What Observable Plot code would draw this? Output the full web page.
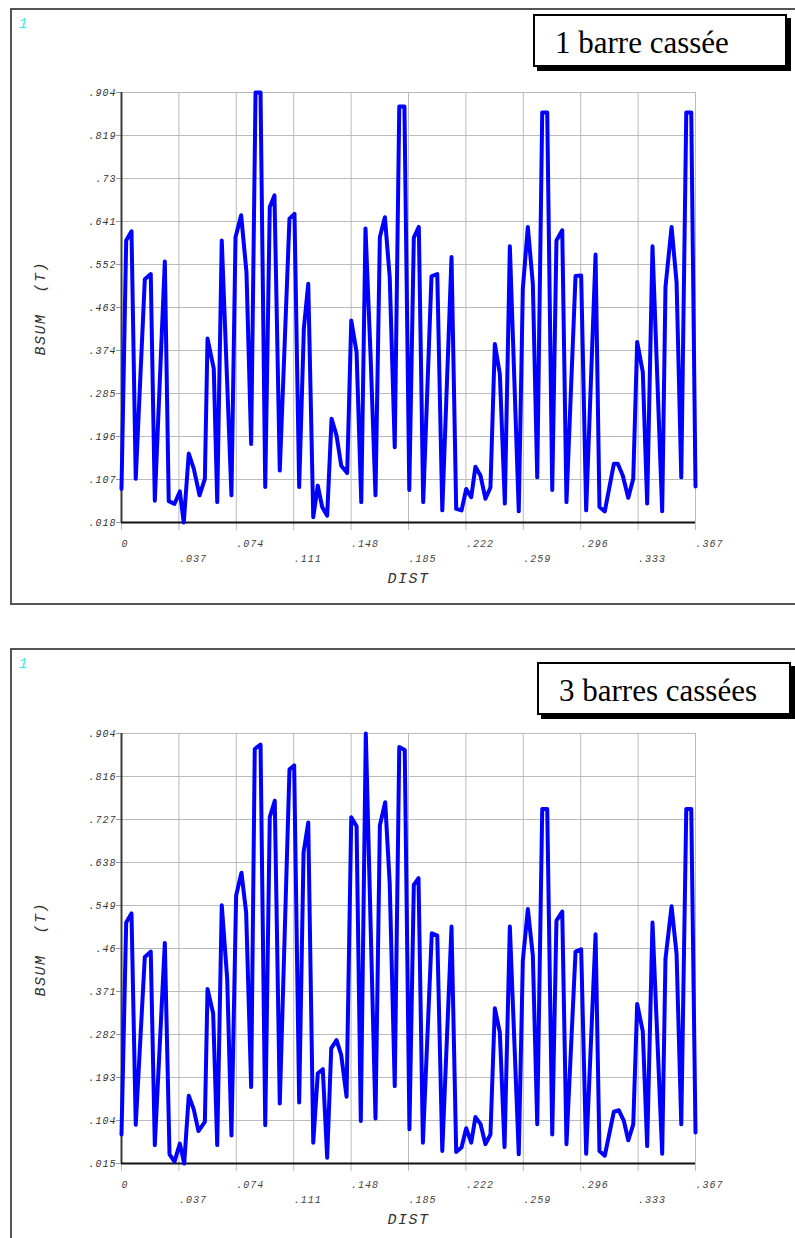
<!DOCTYPE html>
<html><head><meta charset="utf-8">
<script src="https://cdn.jsdelivr.net/npm/d3@7"></script>
<script src="https://cdn.jsdelivr.net/npm/@observablehq/plot@0.6"></script>
<style>
html,body{margin:0;padding:0;background:#fff;}
body{width:795px;height:1238px;position:relative;overflow:hidden;}
.svgwrap{position:absolute;left:0;width:795px;}
.frame{position:absolute;left:10px;width:800px;border:2px solid #555;box-sizing:border-box;}
.num{position:absolute;font-family:"Liberation Mono",monospace;font-style:italic;font-size:14px;line-height:14px;color:#33e8e8;}
.tbox{position:absolute;width:254px;height:53px;box-sizing:border-box;border:2px solid #000;box-shadow:4px 4px 0 #000;background:#fff;font-family:"Liberation Serif","Times New Roman",Times,"DejaVu Serif",serif;font-size:31px;line-height:53px;padding-left:20px;white-space:nowrap;color:#000;}
svg text{font-style:italic;letter-spacing:1px;}
</style>
</head><body>
<script>
// ---- data ----
const xTickLabels = ["0",".037",".074",".111",".148",".185",".222",".259",".296",".333",".367"];
const yTickLabelsTop = [".018",".107",".196",".285",".374",".463",".552",".641",".73",".819",".904"];
const yTickLabelsBot = [".015",".104",".193",".282",".371",".46",".549",".638",".727",".816",".904"];
const titleTop = "1 barre cassée";
const titleBot = "3 barres cassées";
const xTitle = "DIST";
const yTitle = "BSUM  (T)";

const xTop = [0,.0030,.0064,.0091,.0149,.0187,.0213,.0277,.0302,.0339,
  .0373,.0398,.0430,.0462,.0499,.0533,.0550,.0590,.0612,.0641,
  .0676,.0703,.0729,.0765,.0799,.0829,.0857,.0889,.0919,.0948,
  .0978,.1012,.1074,.1106,.1136,.1166,.1194,.1226,.1255,.1283,
  .1315,.1343,.1375,.1405,.1443,.1469,.1503,.1533,.1560,.1592,
  .1624,.1652,.1684,.1715,.1747,.1776,.1809,.1840,.1869,.1901,
  .1929,.1982,.2019,.2051,.2110,.2140,.2174,.2204,.2236,.2263,
  .2295,.2327,.2359,.2387,.2419,.2451,.2483,.2540,.2566,.2598,
  .2630,.2658,.2690,.2722,.2754,.2781,.2818,.2845,.2903,.2939,
  .2971,.3031,.3056,.3090,.3148,.3173,.3205,.3240,.3272,.3297,
  .3333,.3361,.3395,.3457,.3478,.3517,.3549,.3579,.3611,.3643,
  .367];
const yTop = [.087,.599,.618,.108,.519,.530,.063,.556,.062,.0565,
  .082,.018,.160,.129,.074,.108,.397,.335,.060,.599,
  .303,.074,.606,.651,.534,.180,.904,.904,.091,.668,
  .692,.125,.644,.654,.091,.418,.510,.029,.094,.050,
  .032,.232,.197,.135,.120,.434,.369,.060,.624,.366,
  .074,.606,.647,.523,.173,.875,.875,.085,.605,.627,
  .060,.525,.530,.043,.565,.046,.043,.087,.070,.133,
  .115,.067,.090,.386,.324,.057,.587,.041,.500,.627,
  .510,.111,.863,.863,.085,.599,.620,.060,.526,.527,
  .043,.570,.050,.041,.139,.139,.115,.069,.108,.390,
  .328,.057,.587,.041,.503,.627,.513,.111,.863,.863,
  .092];

const xBot = [0,.0030,.0064,.0091,.0149,.0187,.0213,.0277,.0307,.0339,
  .0373,.0401,.0430,.0462,.0492,.0533,.0550,.0586,.0612,.0641,
  .0676,.0703,.0733,.0767,.0797,.0829,.0852,.0889,.0919,.0948,
  .0980,.1012,.1074,.1104,.1136,.1164,.1194,.1226,.1255,.1287,
  .1315,.1341,.1375,.1405,.1439,.1469,.1503,.1530,.1562,.1624,
  .1652,.1686,.1715,.1747,.1776,.1811,.1841,.1869,.1899,.1927,
  .1984,.2019,.2051,.2110,.2140,.2174,.2204,.2236,.2263,.2295,
  .2327,.2359,.2387,.2419,.2449,.2483,.2540,.2566,.2598,.2630,
  .2658,.2690,.2722,.2754,.2781,.2818,.2845,.2903,.2939,.2971,
  .3031,.3056,.3090,.3148,.3180,.3212,.3240,.3272,.3297,.3333,
  .3361,.3395,.3457,.3478,.3517,.3549,.3579,.3611,.3643,.367];
const yBot = [.075,.513,.532,.095,.442,.453,.053,.471,.034,.019,
  .056,.015,.155,.127,.082,.101,.376,.325,.053,.549,
  .396,.073,.569,.616,.534,.173,.872,.881,.094,.731,
  .765,.139,.830,.838,.141,.658,.720,.058,.201,.210,
  .027,.253,.270,.239,.153,.731,.712,.103,.904,.108,
  .714,.762,.593,.175,.876,.870,.086,.591,.605,.058,
  .491,.486,.041,.505,.039,.048,.088,.058,.111,.097,
  .055,.075,.336,.286,.049,.505,.034,.434,.541,.445,
  .096,.748,.748,.075,.517,.536,.055,.453,.458,.035,
  .489,.041,.031,.122,.125,.103,.063,.096,.345,.288,
  .051,.513,.035,.438,.547,.448,.096,.748,.748,.079];

const xMax = 0.367;

function panel({xs, ys, yLabels, yMin, yMax, svgTop, frameTop, frameHeight, title, boxLeft, boxTop}) {
  const data = xs.map((x, i) => ({x, y: ys[i]}));
  const xTicks = xTickLabels.map((label, i) => ({v: i * xMax / 10, label, row: i % 2}));
  const yTicks = yLabels.map((label, i) => ({v: yMin + i * (yMax - yMin) / 10, label}));
  const xVals = xTicks.map(d => d.v);
  const yVals = yTicks.map(d => d.v);
  const yLab = d => yLabels[Math.round((d - yMin) / ((yMax - yMin) / 10))];

  const svg = Plot.plot({
    width: 795, height: 600,
    marginLeft: 121, marginRight: 100, marginTop: 92, marginBottom: 78,
    x: {domain: [0, xMax], axis: null},
    y: {domain: [yMin, yMax], axis: null},
    style: {background: "transparent", fontFamily: "'Liberation Mono', monospace", fontSize: "10px", color: "#333", overflow: "visible"},
    marks: [
      Plot.gridX(xVals, {stroke: "#bbbbbb", strokeOpacity: 1, strokeWidth: 1}),
      Plot.gridY(yVals, {stroke: "#bbbbbb", strokeOpacity: 1, strokeWidth: 1}),
      Plot.axisX(xVals, {tickSize: 8, stroke: "#bbbbbb", strokeOpacity: 1, tickFormat: () => "", label: null}),
      Plot.axisY(yVals, {tickSize: 5, tickPadding: 0, stroke: "#999", strokeOpacity: 1, fill: "#333", tickFormat: yLab, label: null}),
      Plot.ruleX([0], {stroke: "#3a3a3a", strokeWidth: 2}),
      Plot.ruleY([yMin], {stroke: "#111", strokeWidth: 2}),
      Plot.line(data, {x: "x", y: "y", stroke: "#0000ff", strokeWidth: 4}),
      Plot.text(xTicks.filter(d => d.row === 0), {x: "v", text: "label", frameAnchor: "bottom", lineAnchor: "middle", dy: 21, textAnchor: "start", fill: "#444"}),
      Plot.text(xTicks.filter(d => d.row === 1), {x: "v", text: "label", frameAnchor: "bottom", lineAnchor: "middle", dy: 36, textAnchor: "start", fill: "#444"}),
      Plot.text([xTitle], {text: d => d, frameAnchor: "bottom", lineAnchor: "middle", textAnchor: "middle", dy: 56, fontSize: 15, fill: "#333"}),
      Plot.text([yTitle], {text: d => d, frameAnchor: "left", lineAnchor: "middle", textAnchor: "start", dx: -81, dy: 48, rotate: -90, fontSize: 15, fill: "#333"})
    ]
  });
  d3.select(svg).selectAll("text")
    .filter(function() { return this.textContent === xTitle || this.textContent === yTitle; })
    .style("letter-spacing", "1.5px");

  const wrap = document.createElement("div");
  wrap.className = "svgwrap";
  wrap.style.top = svgTop + "px";
  wrap.appendChild(svg);
  document.body.appendChild(wrap);

  const frame = document.createElement("div");
  frame.className = "frame";
  frame.style.top = frameTop + "px";
  frame.style.height = frameHeight + "px";
  document.body.appendChild(frame);

  const num = document.createElement("div");
  num.className = "num";
  num.style.left = "19px";
  num.style.top = (frameTop + 9) + "px";
  num.textContent = "1";
  document.body.appendChild(num);

  const box = document.createElement("div");
  box.className = "tbox";
  box.style.left = boxLeft + "px";
  box.style.top = boxTop + "px";
  box.textContent = title;
  document.body.appendChild(box);
}

panel({xs: xTop, ys: yTop, yLabels: yTickLabelsTop, yMin: 0.018, yMax: 0.904,
  svgTop: 0, frameTop: 8, frameHeight: 597, title: titleTop, boxLeft: 533, boxTop: 14});
panel({xs: xBot, ys: yBot, yLabels: yTickLabelsBot, yMin: 0.015, yMax: 0.904,
  svgTop: 641, frameTop: 648, frameHeight: 700, title: titleBot, boxLeft: 537, boxTop: 662});
</script>
</body></html>
